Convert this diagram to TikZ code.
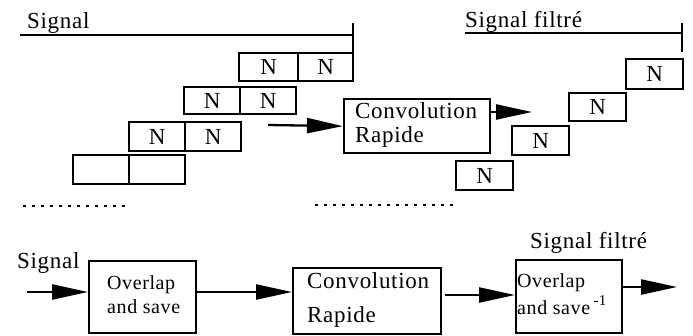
\documentclass[tikz,border=0pt]{standalone}
\usepackage{fontspec}
\setmainfont{Liberation Serif}
\newfontfamily\tf{Liberation Serif}[LetterSpace=3]
\usetikzlibrary{arrows.meta}
\begin{document}
\begin{tikzpicture}[x=1pt,y=-1pt,
  ln/.style={line width=2.3pt},
  arr/.style={ln,-{Triangle[length=36pt,width=15pt]}},
  cell/.style={draw,ln,minimum width=56pt,minimum height=28pt,inner sep=0pt,anchor=north west,font=\tf\fontsize{23}{24}\selectfont},
  boxx/.style={draw,ln,inner sep=0pt,anchor=north west},
  big/.style={inner sep=0pt,anchor=base west,font=\tf\fontsize{23}{25}\selectfont},
  small/.style={inner sep=0pt,anchor=base west,font=\tf\fontsize{20}{22}\selectfont},
  dots/.style={line width=2pt,dash pattern=on 2.5pt off 6.5pt}]
\useasboundingbox (0,0) rectangle (693,335);

% top signal line
\node[big] (sig) at (27,28) {Signal};
\coordinate (s1) at (20,35);
\coordinate (s2) at (353,35);
\coordinate (s3) at (353,23);
\coordinate (s4) at (353,52);
\draw[ln] (s1) -- (s2);
\draw[ln] (s3) -- (s4);

% overlapping blocks
\node[cell,minimum width=59pt] (r1a) at (238,52) {N};
\node[cell,minimum width=55pt] (r1b) at (297,52) {N};
\node[cell,minimum width=56pt,minimum height=27pt] (r2a) at (183,86) {N};
\node[cell,minimum width=56pt,minimum height=27pt] (r2b) at (239,86) {N};
\node[cell,minimum height=29pt] (r3a) at (128,121) {N};
\node[cell,minimum height=29pt] (r3b) at (184,121) {N};
\node[cell,minimum height=29pt] (r4a) at (72,154) {};
\node[cell,minimum height=29pt] (r4b) at (128,154) {};

% convolution (top)
\node[boxx,minimum width=146pt,minimum height=54pt] (conv) at (343,98) {};
\node[big] (ct1) at (355,118) {Convolution};
\node[big] (ct2) at (355,142) {Rapide};
\coordinate (a0) at (268,125);
\draw[arr] (a0) -- (conv.west);
\coordinate (a1) at (532,112);
\draw[arr] (conv.east |- a1) -- (a1);

% filtered signal
\node[big] (sf) at (465,27) {Signal filtré};
\coordinate (f1) at (465,33);
\coordinate (f2) at (682,33);
\coordinate (f3) at (682,23);
\coordinate (f4) at (682,52);
\draw[ln] (f1) -- (f2);
\draw[ln] (f3) -- (f4);

\node[cell,minimum width=57pt,minimum height=30pt] (b1) at (625,58) {N};
\node[cell,minimum width=57pt] (b2) at (568,92) {N};
\node[cell,minimum width=57pt,minimum height=29pt] (b3) at (511,125) {N};
\node[cell,minimum width=57pt,minimum height=29pt] (b4) at (455,160) {N};

% dotted separators
\coordinate (d1) at (23,206);
\coordinate (d2) at (128,206);
\coordinate (d3) at (315,205);
\coordinate (d4) at (458,205);
\draw[dots] (d1) -- (d2);
\draw[dots] (d3) -- (d4);

% bottom chain
\node[big] (bsig) at (17,268) {Signal};
\node[boxx,minimum width=107pt,minimum height=72pt] (ovl) at (88,260) {};
\node[small] (o1) at (107,289) {Overlap};
\node[small] (o2) at (107,313) {and save};
\node[boxx,minimum width=148pt,minimum height=66pt] (conv2) at (292,267) {};
\node[big] (c21) at (307,288) {Convolution};
\node[big] (c22) at (307,322) {Rapide};
\node[boxx,minimum width=106pt,minimum height=73pt] (inv) at (515,259) {};
\node[small] (i1) at (517,287) {Overlap};
\node[small] (i2) at (517,314) {and save\,\raisebox{0.45em}{\fontsize{15}{16}\selectfont -1}};
\node[big] (bsf) at (530,248) {Signal filtré};

\coordinate (in) at (27,292);
\draw[arr] (in) -- (ovl.west |- in);
\draw[arr] (ovl.east |- in) -- (conv2.west |- in);
\coordinate (m) at (445,295);
\draw[arr] (m) -- (inv.west |- m);
\coordinate (out) at (677,287);
\draw[arr] (inv.east |- out) -- (out);
\end{tikzpicture}
\end{document}
